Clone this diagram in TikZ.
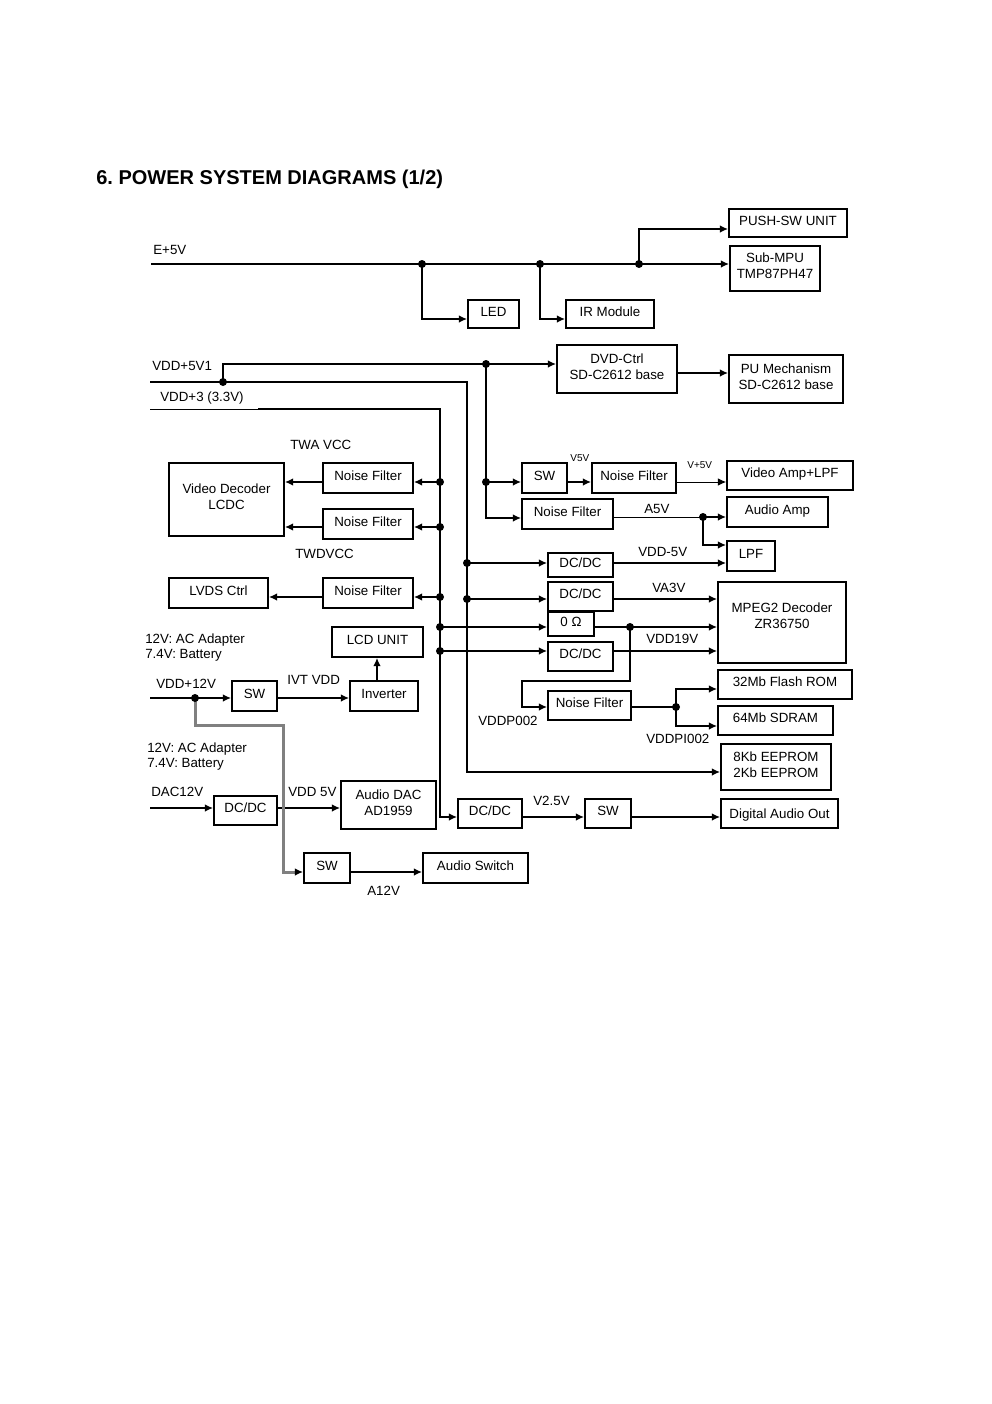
\documentclass[tikz,border=0pt]{standalone}
\usepackage{fontspec}
\setmainfont{Liberation Sans}
\usetikzlibrary{arrows.meta}
\newcommand\jdot[1]{\fill (#1) circle (2.4pt);}
\frenchspacing
\begin{document}
\begin{tikzpicture}[x=0.6pt,y=-0.6pt,
  every node/.style={inner sep=0pt, font=\fontsize{8}{9.6}\selectfont},
  blk/.style n args={2}{draw, line width=1pt, minimum width=#1*0.6pt, minimum height=#2*0.6pt, align=center, text depth=3pt},
  wire/.style={line width=1.1pt},
  thinwire/.style={line width=0.6pt},
  arr/.style={-{Latex[length=5pt,width=4.6pt]}},
  lab/.style={anchor=base west},
  small/.style={font=\fontsize{6}{7}\selectfont}
]
\useasboundingbox (0,0) rectangle (992,1404);

\node[lab, font=\bfseries\fontsize{12}{14}\selectfont] (title) at (96,184) {6. POWER SYSTEM DIAGRAMS (1/2)};

% ---------- E+5V ----------
\node[blk={118}{28}] (pushsw) at (788,223) {PUSH-SW UNIT};
\node[blk={90}{45}] (submpu) at (775,268.5) {Sub-MPU\\TMP87PH47};
\node[blk={51}{28}] (led) at (493.5,314) {LED};
\node[blk={88}{28}] (irm) at (610,314) {IR Module};
\node[lab] (le5) at (153,254) {E+5V};
\coordinate (e5) at (151,264);
\coordinate (ja) at (422,264);
\coordinate (jb) at (540,264);
\coordinate (jc) at (639,264);
\draw[wire,arr] (e5) -- (submpu.west |- e5);
\draw[wire,arr] (ja) |- ([yshift=-3pt]led.west);
\draw[wire,arr] (jb) |- ([yshift=-3pt]irm.west);
\draw[wire,arr] (jc) |- ([yshift=-3.6pt]pushsw.west);
\jdot{ja}\jdot{jb}\jdot{jc}

% ---------- VDD rails ----------
\node[lab] (l5v1) at (152,370) {VDD+5V1};
\node[lab] (l3v3) at (160,401) {VDD+3 (3.3V)};
\coordinate (v5s) at (150,382);
\coordinate (jv5) at (223,382);
\coordinate (c467t) at (467,382);
\coordinate (v3s) at (150,409);
\coordinate (v3m) at (258,409);
\coordinate (c440t) at (440,409);
\coordinate (jd) at (486,364);
\coordinate (je) at (486,482);

\node[blk={120}{48}] (dvd) at (617,369) {DVD-Ctrl\\SD-C2612 base};
\node[blk={114}{48}] (pum) at (786,379) {PU Mechanism\\SD-C2612 base};

% right column boxes
\node[blk={45}{30}] (sw1) at (544.5,478) {SW};
\node[blk={84}{30}] (nfv5) at (634,478) {Noise Filter};
\node[blk={126}{29}] (vamp) at (790,475.5) {Video Amp+LPF};
\node[blk={91}{30}] (nfa5) at (567.5,514) {Noise Filter};
\node[blk={101}{30}] (aamp) at (777.5,512) {Audio Amp};
\node[blk={48}{30}] (lpf) at (751,556) {LPF};
\node[blk={65}{24}] (dc1) at (580.5,565) {DC/DC};
\node[blk={65}{29}] (dc2) at (580.5,596.5) {DC/DC};
\node[blk={46}{24}] (zohm) at (571,624) {0 Ω};
\node[blk={65}{29}] (dc3) at (580.5,656.5) {DC/DC};
\node[blk={128}{81}, text depth=8.4pt] (mpeg) at (782,622.5) {MPEG2 Decoder\\ZR36750};
\node[blk={83}{29}] (nf4) at (589.5,705.5) {Noise Filter};
\node[blk={134}{29}] (flash) at (785,684.5) {32Mb Flash ROM};
\node[blk={115}{29}] (sdram) at (775.5,720.5) {64Mb SDRAM};
\node[blk={110}{46}] (eep) at (776,767) {8Kb EEPROM\\2Kb EEPROM};
\node[blk={64}{29}] (dcv25) at (490,813.5) {DC/DC};
\node[blk={46}{29}] (sw3) at (608,813.5) {SW};
\node[blk={117}{29}, text depth=0pt] (dao) at (779.5,813.5) {Digital Audio Out};

% left boxes
\node[blk={115}{73}] (vdec) at (226.5,499.5) {Video Decoder\\LCDC};
\node[blk={90}{30}] (nf1) at (368,478) {Noise Filter};
\node[blk={90}{30}] (nf2) at (368,524) {Noise Filter};
\node[blk={99}{30}] (lvds) at (218.5,593) {LVDS Ctrl};
\node[blk={90}{30}] (nf3) at (368,593) {Noise Filter};
\node[blk={91}{30}] (lcd) at (377.5,642) {LCD UNIT};
\node[blk={68}{30}] (inv) at (384,696) {Inverter};
\node[blk={45}{30}] (sw2) at (254.5,696) {SW};
\node[blk={63}{29}] (dc4) at (245.5,810.5) {DC/DC};
\node[blk={95}{48}] (adac) at (388.5,805) {Audio DAC\\AD1959};
\node[blk={46}{30}] (sw4) at (327,868) {SW};
\node[blk={105}{30}] (asw) at (475.5,868) {Audio Switch};

% rails
\draw[wire,arr] (jv5) |- (dvd.west |- jd);
\draw[wire,arr] (dvd.east |- 0,373) -- (pum.west |- 0,373);
\draw[wire,arr] (v5s) -- (c467t) |- (eep.west |- 0,772);
\draw[thinwire] (v3s) -- (v3m);
\draw[wire,arr] (v3m) -- (c440t) |- (dcv25.west |- 0,817);
\draw[wire,arr] (jd) |- (nfa5.west |- 0,518);
\draw[wire,arr] (je) -- (sw1.west |- je);
\jdot{jv5}\jdot{jd}\jdot{je}

% taps on x=440
\coordinate (ka) at (440,482);
\coordinate (kb) at (440,527);
\coordinate (kc) at (440,597);
\coordinate (kd) at (440,627);
\coordinate (ke) at (440,651);
\draw[wire,arr] (ka) -- (nf1.east |- ka);
\draw[wire,arr] (kb) -- (nf2.east |- kb);
\draw[wire,arr] (kc) -- (nf3.east |- kc);
\draw[wire,arr] (kd) -- (zohm.west |- kd);
\draw[wire,arr] (ke) -- (dc3.west |- ke);
\draw[wire,arr] (nf1.west |- ka) -- (vdec.east |- ka);
\draw[wire,arr] (nf2.west |- kb) -- (vdec.east |- kb);
\draw[wire,arr] (nf3.west |- kc) -- (lvds.east |- kc);
\jdot{ka}\jdot{kb}\jdot{kc}\jdot{kd}\jdot{ke}

% taps on x=467
\coordinate (ma) at (467,563);
\coordinate (mb) at (467,599);
\draw[wire,arr] (ma) -- (dc1.west |- ma);
\draw[wire,arr] (mb) -- (dc2.west |- mb);
\jdot{ma}\jdot{mb}

% right side outputs
\draw[wire,arr] (sw1.east |- je) -- (nfv5.west |- je);
\draw[thinwire,arr] (nfv5.east |- je) -- (vamp.west |- je);
\coordinate (ja5) at (703,517);
\draw[thinwire] (nfa5.east |- ja5) -- (ja5);
\draw[wire,arr] (ja5) -- (aamp.west |- ja5);
\draw[wire,arr] (ja5) |- (lpf.west |- 0,545);
\jdot{ja5}
\draw[wire,arr] (dc1.east |- ma) -- (lpf.west |- ma);
\draw[wire,arr] (dc2.east |- mb) -- (mpeg.west |- mb);
\coordinate (jz) at (630,627);
\coordinate (pA) at (522,681);
\draw[wire,arr] (zohm.east |- kd) -- (mpeg.west |- kd);
\draw[wire,arr] (dc3.east |- ke) -- (mpeg.west |- ke);
\draw[wire,arr] (jz) |- (pA) |- (nf4.west |- 0,707);
\jdot{jz}
\coordinate (jn) at (676,707);
\draw[wire] (nf4.east |- jn) -- (jn);
\draw[wire,arr] (jn) |- (flash.west |- 0,689);
\draw[wire,arr] (jn) |- (sdram.west |- 0,726);
\jdot{jn}
\draw[wire,arr] (dcv25.east |- 0,817) -- (sw3.west |- 0,817);
\draw[wire,arr] (sw3.east |- 0,817) -- (dao.west |- 0,817);

% left lower
\draw[wire,arr] (inv.north -| 377,0) -- (lcd.south -| 377,0);
\coordinate (v12s) at (150,698);
\coordinate (jv12) at (195,698);
\draw[wire,arr] (v12s) -- (sw2.west |- v12s);
\draw[wire,arr] (sw2.east |- v12s) -- (inv.west |- v12s);
\coordinate (d12s) at (150,808);
\draw[wire,arr] (d12s) -- (dc4.west |- d12s);
\draw[wire,arr] (dc4.east |- d12s) -- (adac.west |- d12s);
\coordinate (g1) at (195,725);
\coordinate (g2) at (283,725);
\draw[line width=1.8pt, black!50, -{Latex[black,length=5pt,width=4.6pt]}] (jv12) -- (g1) -- (g2) |- (sw4.west |- 0,872);
\jdot{jv12}
\draw[wire,arr] (sw4.east |- 0,872) -- (asw.west |- 0,872);

% labels
\node[lab] (ltwa) at (290,449) {TWA VCC};
\node[lab] (ltwd) at (295,558) {TWDVCC};
\node[lab] (lac1) at (145,643) {12V: AC Adapter};
\node[lab] (lbt1) at (145,658) {7.4V: Battery};
\node[lab] (lac2) at (147,752) {12V: AC Adapter};
\node[lab] (lbt2) at (147,767) {7.4V: Battery};
\node[lab] (l12) at (156,688) {VDD+12V};
\node[lab] (livt) at (287,684) {IVT VDD};
\node[lab] (ldac) at (151,796) {DAC12V};
\node[lab] (lvdd5) at (288,796) {VDD 5V};
\node[lab] (la12) at (367,895) {A12V};
\node[lab] (lp002) at (478,725) {VDDP002};
\node[lab] (lpi002) at (646,743) {VDDPI002};
\node[lab] (lv25) at (533,805) {V2.5V};
\node[lab] (lm5) at (638,556) {VDD-5V};
\node[lab] (la3) at (652,592) {VA3V};
\node[lab] (l19) at (646,643) {VDD19V};
\node[lab] (la5) at (644,513) {A5V};
\node[lab,small] (lv5) at (570,461) {V5V};
\node[lab,small] (lvp5) at (687,468) {V+5V};
\end{tikzpicture}
\end{document}
